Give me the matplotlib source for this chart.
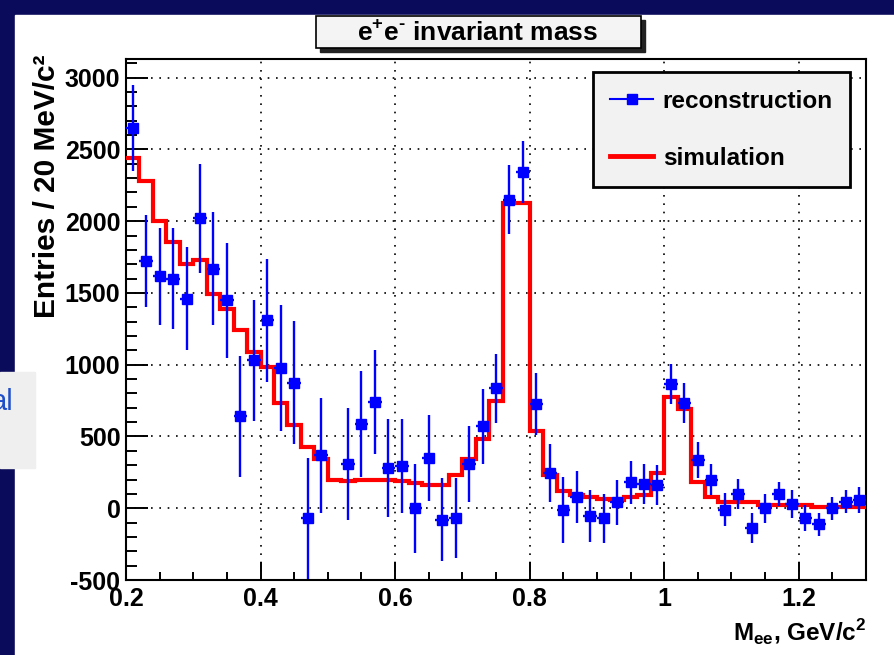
import numpy as np
import matplotlib
matplotlib.use("Agg")
import matplotlib.pyplot as plt
from matplotlib.patches import Rectangle
from matplotlib.lines import Line2D

plt.rcParams["font.family"] = ["Liberation Sans", "DejaVu Sans"]
plt.rcParams["mathtext.fontset"] = "custom"
plt.rcParams["mathtext.rm"] = "Liberation Sans:bold"
plt.rcParams["mathtext.bf"] = "Liberation Sans:bold"
plt.rcParams["axes.unicode_minus"] = False

# 20 MeV bins from 0.2 to 1.3 GeV
bin_lo, bin_hi, bin_w = 0.2, 1.3, 0.02
edges = np.linspace(bin_lo, bin_hi, 56)
centers = edges[:-1] + bin_w / 2

# reconstruction (points), nan = empty bin
reco = [2650, 1725, 1615, 1600, 1460, 2020, 1670, 1450, 640, 1030,
        1310, 975, 875, -70, 370, np.nan, 310, 585, 740, 280,
        295, 0, 350, -80, -70, 305, 570, 835, 2150, 2345,
        725, 245, -15, 80, -55, -70, 40, 180, 170, 160,
        865, 735, 335, 200, -10, 100, -140, 0, 100, 30,
        -70, -110, 0, 45, 55]
reco_err = [300, 320, 340, 350, 360, 380, 395, 400, 420, 420,
            430, 440, 430, 420, 400, np.nan, 390, 370, 360, 340,
            330, 310, 300, 290, 280, 265, 260, 240, 240, 215,
            215, 205, 230, 180, 180, 170, 160, 150, 140, 140,
            140, 140, 125, 110, 115, 105, 105, 100, 85, 95,
            90, 80, 80, 80, 90]

# simulation (histogram)
sim = [2440, 2280, 2000, 1855, 1705, 1730, 1495, 1385, 1245, 1090,
       985, 730, 580, 425, 345, 200, 190, 200, 200, 200,
       187, 175, 160, 160, 235, 345, 480, 745, 2125, 2125,
       535, 235, 120, 90, 75, 62, 60, 78, 95, 245,
       775, 690, 182, 78, 40, 40, 40, 22, 22, 22,
       22, 8, 8, 8, 8]

W, H = 894, 655
fig = plt.figure(figsize=(W / 100, H / 100), dpi=100)
fig.patch.set_facecolor("#0b0b5c")

# slide background pieces
fig.add_artist(Rectangle((15 / W, 0), 1 - 15 / W, 1 - 15 / H,
                         transform=fig.transFigure, color="white", zorder=0))
fig.add_artist(Rectangle((0, 1 - 468 / H), 35 / W, 96 / H,
                         transform=fig.transFigure, color="#efefef", zorder=0))
fig.text(14 / W, 1 - 402 / H, "al", ha="right", va="center",
         fontsize=21, color="#1f4fc8")

ax = fig.add_axes([126 / W, 1 - 580 / H, 740 / W, 520.7 / H])

ax.stairs(sim, edges, baseline=None, color="red", lw=3, zorder=3)
ax.errorbar(centers, reco, yerr=reco_err, xerr=bin_w / 2, fmt="s",
            color="blue", ms=7, elinewidth=1.7, capsize=0, zorder=4)

ax.set_xlim(bin_lo, bin_hi)
ax.set_ylim(-500, 3128)
ax.set_xticks([0.2, 0.4, 0.6, 0.8, 1.0, 1.2])
ax.set_xticklabels(["0.2", "0.4", "0.6", "0.8", "1", "1.2"])
ax.set_xticks(np.arange(0.25, 1.3, 0.05), minor=True)
ax.set_yticks(np.arange(-500, 3001, 500))
ax.set_yticks(np.arange(-500, 3101, 100), minor=True)
ax.grid(True, which="major", color="black", linestyle=(0, (1, 4)), lw=1.2)

ax.tick_params(axis="both", which="both", direction="in", colors="black",
               labelsize=18, width=1.4)
ax.tick_params(axis="x", which="major", length=13, pad=5)
ax.tick_params(axis="x", which="minor", length=6)
ax.tick_params(axis="y", which="major", length=16, pad=4)
ax.tick_params(axis="y", which="minor", length=8)
for lab in ax.get_xticklabels() + ax.get_yticklabels():
    lab.set_fontweight("bold")
for sp in ax.spines.values():
    sp.set_linewidth(1.5)

handles = [Line2D([], [], color="blue", marker="s", ms=7, lw=1.5),
           Line2D([], [], color="red", lw=3.5)]
leg = ax.legend(handles, ["reconstruction", "simulation"],
                loc="upper left", bbox_to_anchor=(0.631, 0.9756),
                borderaxespad=0, prop={"weight": "bold", "size": 17.5},
                fancybox=False, framealpha=1, facecolor="#f2f2f2",
                edgecolor="black", handlelength=1.75, handletextpad=0.4,
                labelspacing=1.4, borderpad=0.72)
leg.get_frame().set_linewidth(2)

fig.text(47 / W, 1 - 55 / H, "Entries / 20 MeV/c²", rotation=90,
         ha="center", va="top", fontsize=21.5, fontweight="bold")
fig.text(866 / W, 1 - 633 / H, r"M$_{\mathrm{ee}}$, GeV/c$^{\mathrm{2}}$",
         ha="right", va="center", fontsize=17.5, fontweight="bold")

# title box with shadow
fig.add_artist(Rectangle((320 / W, 1 - 52 / H), 325 / W, 32 / H,
                         transform=fig.transFigure, color="#222222", zorder=5))
fig.add_artist(Rectangle((316 / W, 1 - 48 / H), 325 / W, 32 / H,
                         transform=fig.transFigure, facecolor="#f4f4f4",
                         edgecolor="black", lw=1.2, zorder=6))
fig.text(478 / W, 1 - 33 / H, r"e$^{+}$e$^{\text{-}}$ invariant mass",
         ha="center", va="center", fontsize=19, fontweight="bold", zorder=7)

fig.savefig("out.png", dpi=100, facecolor=fig.get_facecolor())
